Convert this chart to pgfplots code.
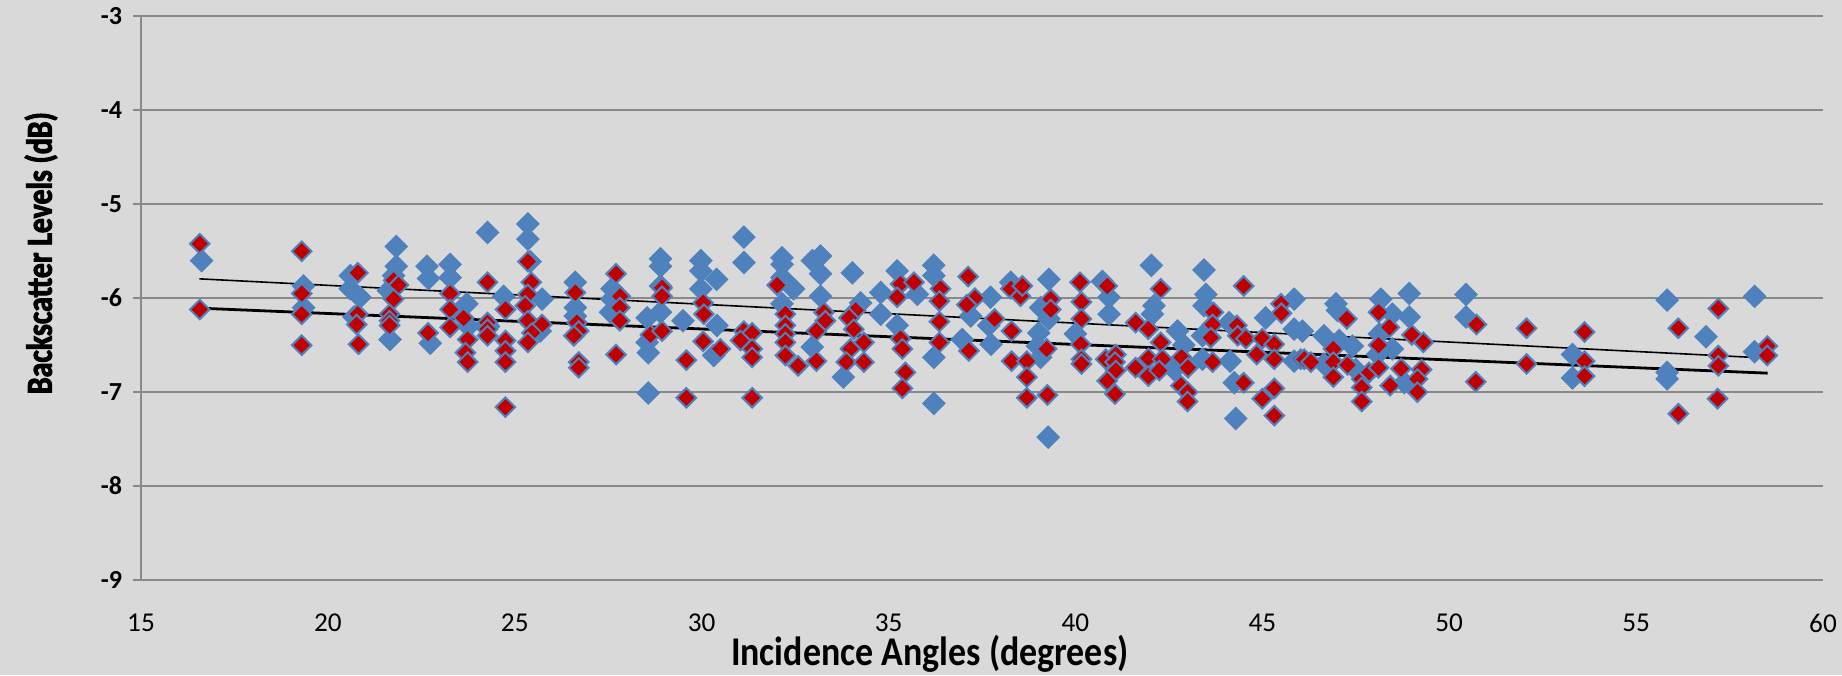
\documentclass[border=0pt]{standalone}
\usepackage{pgfplots}
\pgfplotsset{compat=1.18}
\usepackage{pgfplotstable}
\usepackage{fontspec}
\setmainfont{Carlito}
\newfontfamily\condy[FakeStretch=0.82, BoldFeatures={FakeBold=2.5}]{Carlito}
\newfontfamily\condx[FakeStretch=0.88]{Carlito}

\definecolor{bgc}{HTML}{D9D9D9}
\definecolor{gridc}{HTML}{898989}
\definecolor{bluec}{HTML}{4F81BD}
\definecolor{redc}{HTML}{C00000}

% series 1 (blue)
\pgfplotstableread{
x y
16.62 -5.60
19.35 -5.87
19.35 -6.10
20.60 -5.76
20.60 -5.90
20.86 -5.99
20.70 -6.20
21.83 -5.45
21.83 -5.66
21.76 -5.76
21.62 -5.92
21.66 -6.44
22.65 -5.66
22.69 -5.79
22.74 -6.48
23.27 -5.64
23.27 -5.78
23.72 -6.06
23.76 -6.30
24.27 -5.30
24.30 -6.30
24.70 -5.98
25.35 -5.21
25.35 -5.37
25.41 -5.61
25.73 -6.01
25.68 -6.35
26.62 -5.83
26.62 -6.10
26.62 -6.19
27.60 -5.90
27.60 -6.01
27.56 -6.15
28.90 -5.58
28.90 -5.66
28.90 -5.87
28.90 -6.15
28.54 -6.21
28.54 -6.47
28.57 -6.58
28.57 -7.01
29.50 -6.24
29.98 -5.60
29.98 -5.71
30.40 -5.80
29.98 -5.90
30.41 -6.29
30.32 -6.61
31.13 -5.35
31.13 -5.62
32.15 -5.57
32.15 -5.64
32.15 -5.78
32.46 -5.90
32.15 -6.06
32.96 -5.60
33.18 -5.55
33.18 -5.74
33.18 -5.98
32.96 -6.52
34.03 -5.73
34.25 -6.05
33.79 -6.84
34.79 -5.94
34.79 -6.17
35.23 -5.71
35.23 -6.29
35.77 -5.96
36.21 -5.65
36.21 -5.76
36.21 -6.63
36.21 -7.12
37.20 -6.19
36.97 -6.44
37.73 -5.99
37.74 -6.49
37.68 -6.29
38.27 -5.83
39.07 -6.10
39.02 -6.37
38.98 -6.51
39.07 -6.63
39.29 -5.80
39.29 -6.22
39.27 -7.48
40.00 -6.38
40.72 -5.82
40.90 -5.99
40.90 -6.17
42.03 -5.65
42.10 -6.08
42.06 -6.17
42.73 -6.35
42.90 -6.50
42.64 -6.76
43.44 -5.70
43.49 -5.96
43.44 -6.08
43.40 -6.40
43.40 -6.65
44.11 -6.26
44.14 -6.67
44.25 -6.90
44.29 -7.28
45.09 -6.21
45.85 -6.01
45.85 -6.33
45.85 -6.67
46.07 -6.35
46.65 -6.40
46.65 -6.70
46.97 -6.06
47.01 -6.13
47.06 -6.45
47.41 -6.51
47.50 -6.76
48.17 -6.01
48.48 -6.17
48.13 -6.38
48.48 -6.54
48.08 -6.60
48.93 -5.95
48.93 -6.20
48.80 -6.90
50.45 -5.96
50.45 -6.20
53.30 -6.60
53.30 -6.85
55.83 -6.02
55.83 -6.79
55.83 -6.86
56.87 -6.41
58.17 -5.98
58.17 -6.57
}\bluedata

% series 2 (red)
\pgfplotstableread{
x y
16.57 -5.42
16.57 -6.12
19.30 -5.50
19.30 -5.95
19.30 -6.17
19.30 -6.50
20.80 -5.73
20.80 -6.17
20.77 -6.28
20.82 -6.49
21.76 -5.81
21.89 -5.86
21.76 -6.01
21.65 -6.17
21.65 -6.24
21.65 -6.29
22.68 -6.37
23.27 -5.95
23.27 -6.12
23.27 -6.31
23.63 -6.21
23.74 -6.44
23.68 -6.58
23.74 -6.68
24.27 -5.83
24.27 -6.26
24.27 -6.33
24.27 -6.40
24.75 -6.12
24.75 -6.45
24.75 -6.56
24.75 -6.68
24.75 -7.16
25.35 -5.61
25.44 -5.83
25.35 -5.96
25.28 -6.08
25.35 -6.24
25.73 -6.28
25.46 -6.37
25.35 -6.47
26.62 -5.94
26.66 -6.26
26.71 -6.35
26.58 -6.40
26.71 -6.68
26.71 -6.74
27.71 -5.74
27.82 -5.98
27.81 -6.10
27.81 -6.24
27.71 -6.60
28.94 -5.89
28.94 -5.98
28.63 -6.39
28.94 -6.35
29.59 -6.66
29.59 -7.06
30.04 -6.05
30.06 -6.17
30.04 -6.46
30.50 -6.54
31.13 -6.35
31.35 -6.37
31.35 -6.54
31.35 -6.63
31.35 -7.06
31.04 -6.45
32.02 -5.86
32.24 -6.17
32.24 -6.29
32.24 -6.38
32.24 -6.47
32.24 -6.61
32.58 -6.72
33.27 -6.15
33.31 -6.24
33.07 -6.35
33.07 -6.67
34.12 -6.13
33.94 -6.21
34.07 -6.33
34.34 -6.47
33.98 -6.54
33.87 -6.68
34.34 -6.68
35.32 -5.85
35.23 -5.99
35.32 -6.43
35.37 -6.54
35.45 -6.79
35.37 -6.96
35.68 -5.83
36.39 -5.90
36.36 -6.03
36.36 -6.25
36.36 -6.47
37.13 -5.77
37.31 -6.00
37.09 -6.07
37.15 -6.56
37.84 -6.22
38.27 -5.90
38.29 -6.35
38.29 -6.67
38.53 -5.98
38.58 -5.87
38.70 -6.67
38.70 -6.84
38.70 -7.06
39.34 -6.01
39.34 -6.12
39.23 -6.54
39.25 -7.03
40.12 -5.83
40.16 -6.04
40.16 -6.22
40.14 -6.49
40.16 -6.65
40.16 -6.70
40.85 -5.87
40.81 -6.65
41.08 -6.60
41.06 -6.68
41.08 -6.77
40.85 -6.88
41.06 -7.02
41.61 -6.26
41.95 -6.33
41.61 -6.74
41.95 -6.64
41.95 -6.83
42.28 -5.90
42.28 -6.47
42.33 -6.65
42.24 -6.77
42.84 -6.63
43.01 -6.74
42.82 -6.93
43.00 -7.00
43.00 -7.10
43.69 -6.15
43.67 -6.28
43.62 -6.42
43.67 -6.68
44.50 -5.87
44.32 -6.29
44.34 -6.40
44.56 -6.43
44.50 -6.90
45.00 -6.43
44.85 -6.60
45.00 -7.07
45.32 -6.49
45.32 -6.65
45.32 -6.96
45.32 -7.25
45.50 -6.06
45.51 -6.16
46.03 -6.65
46.12 -6.65
46.30 -6.68
47.26 -6.22
46.90 -6.54
46.90 -6.68
46.90 -6.84
47.28 -6.71
47.66 -6.86
47.66 -6.95
47.66 -7.10
47.86 -6.79
48.11 -6.15
48.40 -6.31
48.11 -6.50
48.11 -6.74
48.42 -6.93
49.00 -6.39
49.31 -6.47
48.71 -6.75
49.26 -6.76
49.15 -6.86
49.15 -7.00
50.73 -6.28
50.71 -6.89
52.07 -6.32
52.07 -6.70
53.62 -6.36
53.62 -6.67
53.62 -6.83
56.13 -6.32
56.13 -7.23
57.20 -6.11
57.20 -6.61
57.20 -6.72
57.18 -7.07
58.51 -6.51
58.51 -6.61
}\reddata

\begin{document}
\begin{tikzpicture}
\path[use as bounding box, fill=bgc] (0,0) rectangle (460.5pt,168.75pt);
\begin{axis}[
    at={(35.25pt,23.75pt)}, anchor=south west,
    scale only axis,
    width=420.5pt, height=140.9pt,
    xmin=15, xmax=60, ymin=-9, ymax=-3,
    xtick={15,20,...,60}, ytick={-9,-8,...,-3},
    xticklabels={15,20,25,30,35,40,45,50,55,60},
    yticklabels={-9,-8,-7,-6,-5,-4,-3},
    axis x line*=bottom, axis y line*=left,
    axis line style={draw=gridc, line width=0.6pt},
    ymajorgrids,
    major grid style={draw=gridc, line width=0.55pt},
    tick align=outside, major tick length=2pt,
    xtick style={draw=none},
    ytick style={draw=gridc, line width=0.55pt},
    xticklabel style={font=\fontsize{6.8}{8}\selectfont, yshift=-3pt},
    yticklabel style={font=\fontsize{6.5}{8}\selectfont\bfseries, xshift=0.8pt},
    xlabel={Incidence Angles (degrees)},
    ylabel={Backscatter Levels (dB)},
    xlabel style={font=\condx\fontsize{10.2}{12}\selectfont\bfseries,
        at={(axis description cs:0.469,0)}, anchor=center, yshift=-18.5pt},
    ylabel style={font=\condy\fontsize{9.1}{11}\selectfont\bfseries,
        at={(axis description cs:0,0.58)}, anchor=center, yshift=25pt},
]
\addplot[only marks, mark=square*, mark size=1.95pt,
    mark options={rotate=45, fill=bluec, draw=bluec, line width=0.3pt}]
    table {\bluedata};
\addplot[only marks, mark=square*, mark size=1.72pt,
    mark options={rotate=45, fill=redc, draw=bluec, line width=0.5pt}]
    table {\reddata};
% linear trend lines
\addplot[black, line width=0.4pt, mark=none] coordinates {(16.56,-5.794) (58.17,-6.631)};
\addplot[black, line width=0.7pt, mark=none] coordinates {(16.56,-6.106) (58.52,-6.798)};
\end{axis}
\end{tikzpicture}
\end{document}
